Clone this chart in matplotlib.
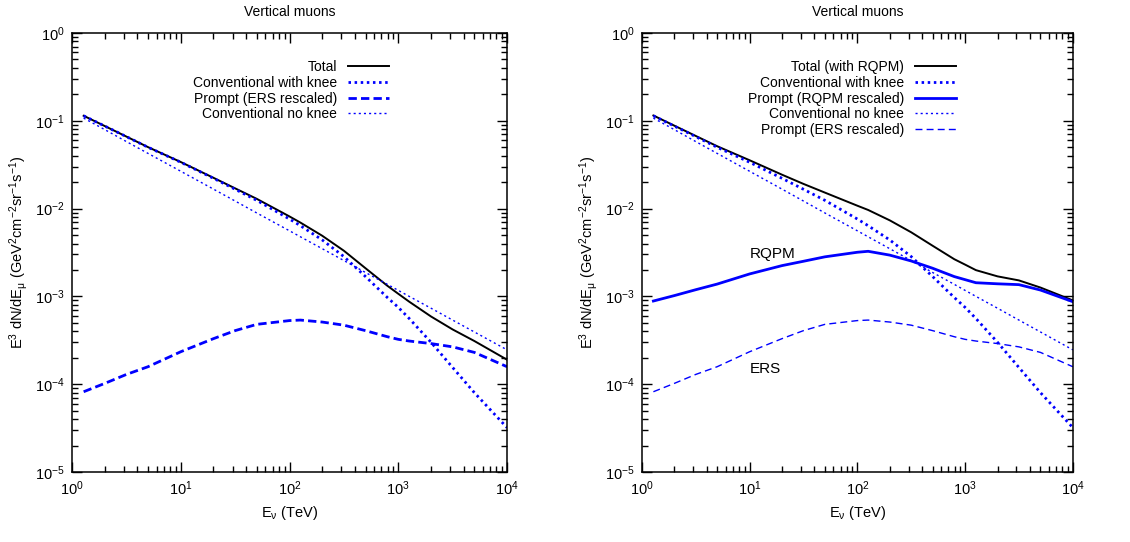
import math
import matplotlib
matplotlib.use("Agg")
import matplotlib.pyplot as plt
from matplotlib.ticker import LogLocator, FixedLocator, FuncFormatter, NullFormatter

plt.rcParams['font.family'] = ['Liberation Sans', 'DejaVu Sans']
plt.rcParams['mathtext.fontset'] = 'custom'
plt.rcParams['mathtext.rm'] = 'Liberation Sans'
plt.rcParams['mathtext.it'] = 'Liberation Sans'
plt.rcParams['mathtext.sf'] = 'Liberation Sans'
plt.rcParams['mathtext.default'] = 'regular'

# Neutrino energy grid (TeV)
energy = [1.28, 2.0, 3.16, 5.0, 10, 20, 31.6, 50, 100, 126, 200, 316,
          500, 794, 1000, 1260, 2000, 3160, 5010, 10000]

# Conventional flux with the cosmic-ray knee
conv_knee = [0.1139, 0.0870, 0.0660, 0.0499, 0.0337, 0.0221, 0.0166, 0.0124,
             7.6e-3, 6.38e-3, 4.39e-3, 2.84e-3, 1.68e-3, 9.7e-4, 7.5e-4,
             5.6e-4, 3.0e-4, 1.55e-4, 8.0e-5, 3.2e-5]

# Conventional flux without the knee
conv_noknee = [0.1072, 0.0793, 0.0580, 0.0425, 0.0266, 0.01664, 0.01219,
               8.91e-3, 5.58e-3, 4.77e-3, 3.49e-3, 2.56e-3, 1.87e-3, 1.37e-3,
               1.17e-3, 1.00e-3, 7.33e-4, 5.37e-4, 3.93e-4, 2.46e-4]

# Prompt flux, ERS model rescaled
prompt_ers = [8.2e-5, 1.02e-4, 1.29e-4, 1.58e-4, 2.34e-4, 3.3e-4, 4.07e-4,
              4.8e-4, 5.3e-4, 5.37e-4, 5.1e-4, 4.7e-4, 4.07e-4, 3.47e-4,
              3.24e-4, 3.1e-4, 2.9e-4, 2.66e-4, 2.3e-4, 1.58e-4]

# Prompt flux, RQPM model rescaled
prompt_rqpm = [8.85e-4, 1.02e-3, 1.19e-3, 1.38e-3, 1.80e-3, 2.24e-3, 2.51e-3,
               2.82e-3, 3.18e-3, 3.26e-3, 2.95e-3, 2.53e-3, 2.09e-3, 1.68e-3,
               1.55e-3, 1.43e-3, 1.39e-3, 1.36e-3, 1.18e-3, 8.7e-4]

# Totals
total_ers = [0.114, 0.0871, 0.0661, 0.0501, 0.0339, 0.0224, 0.0170, 0.0129,
             8.13e-3, 6.92e-3, 4.90e-3, 3.31e-3, 2.09e-3, 1.32e-3, 1.07e-3,
             8.7e-4, 5.9e-4, 4.2e-4, 3.1e-4, 1.9e-4]

total_rqpm = [0.1148, 0.0880, 0.0672, 0.0513, 0.0355, 0.0243, 0.0191, 0.0152,
              0.01078, 9.64e-3, 7.34e-3, 5.37e-3, 3.77e-3, 2.65e-3, 2.30e-3,
              1.99e-3, 1.69e-3, 1.52e-3, 1.26e-3, 9.0e-4]

x_ticks = [1, 10, 100, 1000, 10000]
y_ticks = [1e-5, 1e-4, 1e-3, 1e-2, 1e-1, 1]

BLUE = '#0000ff'
FS = 10
TICK_FS = 10.5


def pow10(v, pos):
    e = int(round(math.log10(v)))
    return r'$10^{%d}$' % e


def style_axes(ax):
    ax.set_xscale('log')
    ax.set_yscale('log')
    ax.set_xlim(1, 1e4)
    ax.set_ylim(1e-5, 1)
    ax.xaxis.set_major_locator(FixedLocator(x_ticks))
    ax.yaxis.set_major_locator(FixedLocator(y_ticks))
    ax.xaxis.set_minor_locator(LogLocator(base=10, subs=range(2, 10)))
    ax.yaxis.set_minor_locator(LogLocator(base=10, subs=range(2, 10)))
    ax.xaxis.set_major_formatter(FuncFormatter(pow10))
    ax.yaxis.set_major_formatter(FuncFormatter(pow10))
    ax.xaxis.set_minor_formatter(NullFormatter())
    ax.yaxis.set_minor_formatter(NullFormatter())
    ax.tick_params(which='both', direction='in', top=True, right=True,
                   labelsize=TICK_FS, width=1.0)
    ax.tick_params(which='major', length=7, pad=5)
    ax.tick_params(which='minor', length=4)
    for s in ax.spines.values():
        s.set_linewidth(1.1)
    ax.set_title('Vertical muons', fontsize=FS, pad=12)
    ax.set_xlabel(r'E$_{\nu}$ (TeV)', fontsize=FS + 0.5, labelpad=5)
    ax.set_ylabel(r'E$^{3}$ dN/dE$_{\mu}$ (GeV$^{2}$cm$^{-2}$sr$^{-1}$s$^{-1}$)',
                  fontsize=FS + 0.5, labelpad=4)


def right_aligned_legend(ax, anchor):
    # key text on the left, right-justified against the line samples
    leg = ax.legend(loc='upper right', bbox_to_anchor=anchor, frameon=False,
                    markerfirst=False, fontsize=FS, handlelength=2.95,
                    handletextpad=0.8, labelspacing=0.12, borderaxespad=0,
                    borderpad=0)
    column = leg._legend_box._children[-1]._children[0]
    column.align = 'right'
    return leg


fig = plt.figure(figsize=(11.3, 5.42), dpi=100)
ax1 = fig.add_axes([0.0637, 0.1292, 0.385, 0.81])
ax2 = fig.add_axes([0.568, 0.1292, 0.3814, 0.81])

# Left panel: ERS prompt
ax1.plot(energy, total_ers, color='black', lw=1.4, label='Total')
ax1.plot(energy, conv_knee, color=BLUE, lw=2.0, ls=(0, (0.9, 1.3)),
         label='Conventional with knee')
ax1.plot(energy, prompt_ers, color=BLUE, lw=2.0, ls=(0, (3, 1.5)),
         label='Prompt (ERS rescaled)')
ax1.plot(energy, conv_noknee, color=BLUE, lw=1.0, ls=(0, (1.5, 2.2)),
         label='Conventional no knee')
style_axes(ax1)

# Right panel: RQPM prompt
ax2.plot(energy, total_rqpm, color='black', lw=1.4, label='Total (with RQPM)')
ax2.plot(energy, conv_knee, color=BLUE, lw=2.0, ls=(0, (0.9, 1.3)),
         label='Conventional with knee')
ax2.plot(energy, prompt_rqpm, color=BLUE, lw=2.0, label='Prompt (RQPM rescaled)')
ax2.plot(energy, conv_noknee, color=BLUE, lw=1.0, ls=(0, (1.5, 2.2)),
         label='Conventional no knee')
ax2.plot(energy, prompt_ers, color=BLUE, lw=1.0, ls=(0, (5, 3)),
         label='Prompt (ERS rescaled)')
style_axes(ax2)
ax2.text(10.1, 3.04e-3, 'RQPM', fontsize=FS + 1, va='center', ha='left')
ax2.text(10.1, 1.5e-4, 'ERS', fontsize=FS + 1, va='center', ha='left')

right_aligned_legend(ax1, (0.729, 0.938))
right_aligned_legend(ax2, (0.729, 0.938))

fig.savefig('out.png', dpi=100)
